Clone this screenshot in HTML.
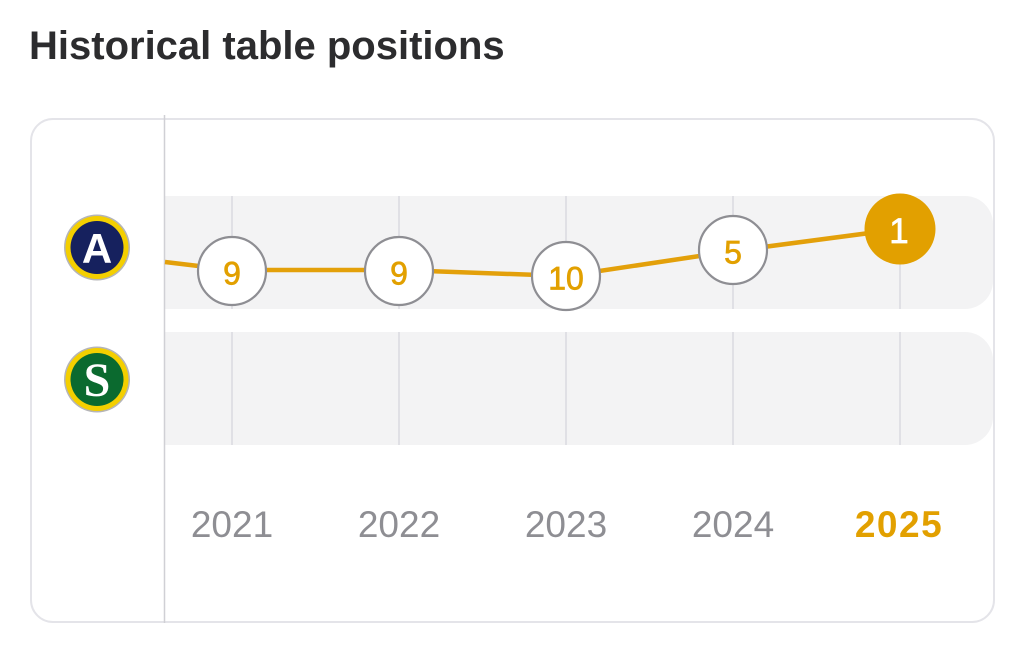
<!DOCTYPE html>
<html>
<head>
<meta charset="utf-8">
<style>
  html, body { margin:0; padding:0; background:#ffffff; }
  body { width:1024px; height:652px; overflow:hidden; }
  svg { display:block; }
  text { font-family: "Liberation Sans", "DejaVu Sans", sans-serif; }
</style>
</head>
<body>
<svg width="1024" height="652" viewBox="0 0 1024 652" xmlns="http://www.w3.org/2000/svg">
  <rect x="0" y="0" width="1024" height="652" fill="#ffffff"/>

  <!-- Title -->
  <text x="29" y="59" font-size="40" font-weight="bold" fill="#2c2c2e">Historical table positions</text>

  <!-- Card -->
  <rect x="31" y="119" width="963" height="503" rx="22" ry="22" fill="#ffffff" stroke="#e4e4e9" stroke-width="2"/>

  <!-- Row bands -->
  <path d="M165 196 H965 A28 28 0 0 1 993 224 V281 A28 28 0 0 1 965 309 H165 Z" fill="#f3f3f4"/>
  <path d="M165 332 H965 A28 28 0 0 1 993 360 V417 A28 28 0 0 1 965 445 H165 Z" fill="#f3f3f4"/>

  <!-- Gridlines (only inside bands) -->
  <g stroke="#e0e0e5" stroke-width="2">
    <line x1="232" y1="196" x2="232" y2="309"/>
    <line x1="399" y1="196" x2="399" y2="309"/>
    <line x1="566" y1="196" x2="566" y2="309"/>
    <line x1="733" y1="196" x2="733" y2="309"/>
    <line x1="900" y1="196" x2="900" y2="309"/>
    <line x1="232" y1="332" x2="232" y2="445"/>
    <line x1="399" y1="332" x2="399" y2="445"/>
    <line x1="566" y1="332" x2="566" y2="445"/>
    <line x1="733" y1="332" x2="733" y2="445"/>
    <line x1="900" y1="332" x2="900" y2="445"/>
  </g>

  <!-- Divider -->
  <line x1="164.5" y1="115" x2="164.5" y2="623" stroke="#d0d0d5" stroke-width="1.5"/>

  <!-- Position line -->
  <polyline points="165,262 232,270 399,270 566,276 733,251 900,229" fill="none" stroke="#e3a00a" stroke-width="4.5" stroke-linejoin="round"/>

  <!-- Markers -->
  <g stroke="#8e8e93" stroke-width="2.2" fill="#ffffff">
    <circle cx="232" cy="271" r="34"/>
    <circle cx="399" cy="271" r="34"/>
    <circle cx="566" cy="276" r="34"/>
    <circle cx="733" cy="250" r="34"/>
  </g>
  <circle cx="900" cy="229" r="35.5" fill="#e2a000"/>

  <g font-size="32" fill="#e2a000" stroke="#e2a000" stroke-width="0.7" text-anchor="middle">
    <text x="232" y="284.5">9</text>
    <text x="399" y="284.5">9</text>
    <text x="566" y="289.5">10</text>
    <text x="733" y="263.5">5</text>
  </g>
  <text x="899" y="243" font-size="35" fill="#ffffff" stroke="#ffffff" stroke-width="0.7" text-anchor="middle">1</text>

  <!-- Team logos -->
  <g>
    <circle cx="97" cy="247.5" r="33" fill="#b5b5b8"/>
    <circle cx="97" cy="247.5" r="31.5" fill="#f4cf00"/>
    <circle cx="97" cy="247.5" r="26.5" fill="#16215e"/>
    <text x="97" y="263" font-size="42" font-weight="bold" fill="#ffffff" text-anchor="middle">A</text>
  </g>
  <g>
    <circle cx="97" cy="379.5" r="33" fill="#b5b5b8"/>
    <circle cx="97" cy="379.5" r="31.5" fill="#f4cf00"/>
    <circle cx="97" cy="379.5" r="26.5" fill="#0b6a2f"/>
    <text x="97" y="396" font-size="48" font-weight="bold" fill="#ffffff" text-anchor="middle" style="font-family:'Liberation Serif', serif;">S</text>
  </g>

  <!-- Year labels -->
  <g font-size="37" fill="#8e8e93" text-anchor="middle">
    <text x="232" y="537">2021</text>
    <text x="399" y="537">2022</text>
    <text x="566" y="537">2023</text>
    <text x="733" y="537">2024</text>
  </g>
  <text x="899" y="537" font-size="37" font-weight="bold" fill="#e2a000" text-anchor="middle" letter-spacing="1.5">2025</text>
</svg>
</body>
</html>
